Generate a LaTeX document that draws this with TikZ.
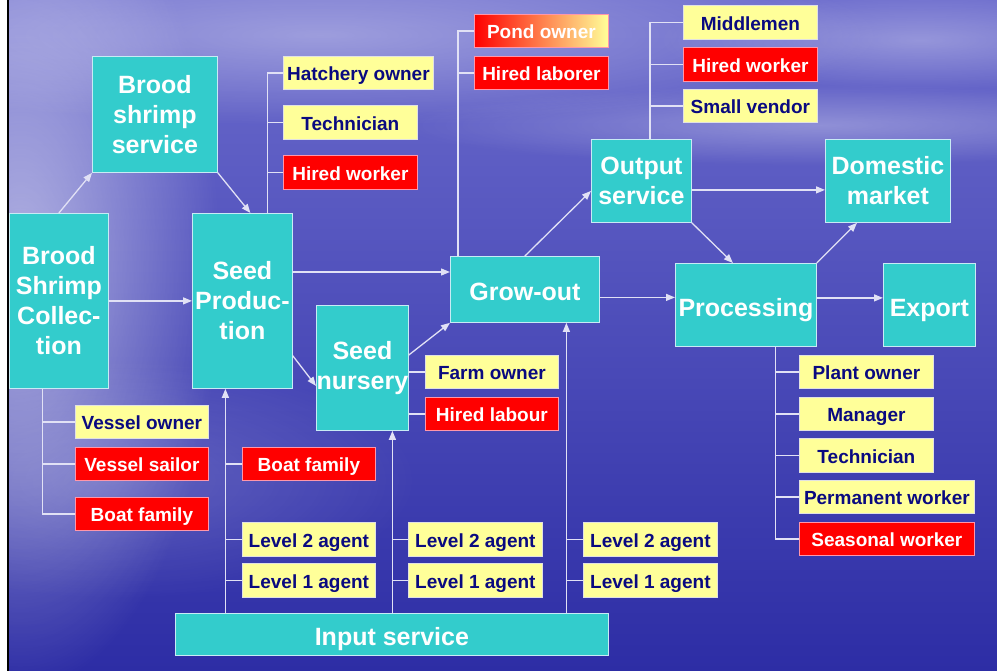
\documentclass[tikz,border=0pt]{standalone}
\usepackage{fontspec}
\setmainfont{Liberation Sans}
\usetikzlibrary{arrows.meta,fadings,calc}
\definecolor{tealc}{RGB}{51,204,204}
\definecolor{yelc}{RGB}{255,255,153}
\definecolor{redc}{RGB}{255,0,0}
\definecolor{navyc}{RGB}{10,10,128}
\definecolor{linec}{RGB}{225,225,245}
\definecolor{tbord}{RGB}{200,235,245}
\definecolor{ybord}{RGB}{225,225,225}
\definecolor{rbord}{RGB}{255,150,170}
\definecolor{bgtop}{RGB}{108,108,205}
\definecolor{bgmid}{RGB}{70,70,185}
\definecolor{bgbot}{RGB}{45,45,165}
\definecolor{pondmid}{RGB}{255,120,50}
\tikzfading[name=softglow, inner color=transparent!0, outer color=transparent!100]
\newcommand\bigf{\fontsize{25}{30}\selectfont\bfseries}
\newcommand\smf{\fontsize{19}{22}\selectfont\bfseries}
\newcommand\mkbox[7]{\node[#1, minimum width={(#5-#3)*1pt}, minimum height={(#6-#4)*1pt}] (#2) at (#3,#4) {#7};}
\tikzset{
  tealbox/.style={fill=tealc, draw=tbord, line width=0.8pt, text=white, font=\bigf, align=center, inner sep=0pt, anchor=north west},
  bigone/.style={tealbox, text height=23pt, text depth=0pt},
  yelbox/.style={fill=yelc, draw=ybord, line width=0.8pt, text=navyc, font=\smf, align=center, inner sep=0pt, anchor=north west, text height=15.6pt, text depth=0pt},
  redbox/.style={fill=redc, draw=rbord, line width=0.8pt, text=white, font=\smf, align=center, inner sep=0pt, anchor=north west, text height=15.6pt, text depth=0pt},
  pondbox/.style={left color=redc, middle color=pondmid, right color=yelc, draw=rbord, line width=0.8pt, text=white, font=\smf, align=center, inner sep=0pt, anchor=north west, text height=15.6pt, text depth=0pt},
  conn/.style={draw=linec, line width=1.3pt},
  arr/.style={conn, -{Triangle[length=9pt,width=7pt]}},
}
\begin{document}
\begin{tikzpicture}[x=1pt,y=-1pt]
\useasboundingbox (0,0) rectangle (997,671);
% background
\fill[white] (0,0) rectangle (7,671);
\shade[top color=bgtop, middle color=bgmid, bottom color=bgbot] (9,0) rectangle (997,671);
\begin{scope}
\clip (9,0) rectangle (997,671);
\fill[white, opacity=0.55, path fading=softglow] (20,270) ellipse (200 and 420);
\fill[white, opacity=0.35, path fading=softglow] (320,35) ellipse (560 and 90);
\fill[white, opacity=0.30, path fading=softglow] (820,125) ellipse (420 and 40);
\fill[white, opacity=0.30, path fading=softglow] (920,40) ellipse (260 and 50);
\fill[white, opacity=0.18, path fading=softglow] (120,480) ellipse (300 and 120);
\end{scope}
\fill[black] (6.5,0) rectangle (9,671);
% main boxes
\mkbox{tealbox}{bs}{92}{56}{217}{172}{Brood\\shrimp\\service}
\mkbox{tealbox}{bc}{9}{213}{108}{388}{Brood\\Shrimp\\Collec-\\tion}
\mkbox{tealbox}{sp}{192}{213}{292}{388}{Seed\\Produc-\\tion}
\mkbox{tealbox}{sn}{316}{305}{408}{430}{Seed\\nursery}
\mkbox{bigone}{go}{450}{256}{599}{322}{Grow-out}
\mkbox{tealbox}{os}{591}{139}{691}{222}{Output\\service}
\mkbox{tealbox}{dm}{825}{139}{950}{222}{Domestic\\market}
\mkbox{bigone}{pr}{675}{263}{816}{346}{Processing}
\mkbox{bigone}{ex}{883}{263}{975}{346}{Export}
\mkbox{bigone}{is}{175}{613}{608}{655}{Input service}
% staff boxes
\mkbox{yelbox}{ho}{283}{56}{433}{89}{Hatchery owner}
\mkbox{yelbox}{te1}{283}{105}{417}{139}{Technician}
\mkbox{redbox}{hw1}{283}{155}{417}{189}{Hired worker}
\mkbox{pondbox}{po}{474}{14}{608}{47}{Pond owner}
\mkbox{redbox}{hla}{474}{56}{608}{89}{Hired laborer}
\mkbox{yelbox}{mm}{683}{5}{817}{39}{Middlemen}
\mkbox{redbox}{hw2}{683}{47}{817}{81}{Hired worker}
\mkbox{yelbox}{sv}{683}{89}{817}{122}{Small vendor}
\mkbox{yelbox}{fo}{425}{355}{558}{388}{Farm owner}
\mkbox{redbox}{hl}{425}{397}{558}{430}{Hired labour}
\mkbox{yelbox}{plo}{799}{355}{933}{388}{Plant owner}
\mkbox{yelbox}{mg}{799}{397}{933}{430}{Manager}
\mkbox{yelbox}{te2}{799}{438}{933}{472}{Technician}
\mkbox{yelbox}{pmw}{799}{480}{974}{513}{Permanent worker}
\mkbox{redbox}{sw}{799}{522}{974}{555}{Seasonal worker}
\mkbox{yelbox}{vo}{75}{405}{208}{438}{Vessel owner}
\mkbox{redbox}{vsl}{75}{447}{208}{480}{Vessel sailor}
\mkbox{redbox}{bf1}{75}{497}{208}{530}{Boat family}
\mkbox{redbox}{bf2}{242}{447}{375}{480}{Boat family}
\mkbox{yelbox}{l2a}{242}{522}{375}{556}{Level 2 agent}
\mkbox{yelbox}{l1a}{242}{563}{375}{597}{Level 1 agent}
\mkbox{yelbox}{l2b}{408}{522}{542}{556}{Level 2 agent}
\mkbox{yelbox}{l1b}{408}{563}{542}{597}{Level 1 agent}
\mkbox{yelbox}{l2c}{583}{522}{717}{556}{Level 2 agent}
\mkbox{yelbox}{l1c}{583}{563}{717}{597}{Level 1 agent}
% flow arrows
\draw[arr] (bc.north) -- (bs.south west);
\draw[arr] (bs.south east) -- ([xshift=8pt]sp.north);
\draw[arr] (bc.east) -- (bc.east -| sp.west);
\coordinate (a1) at ([yshift=-59pt]sp.north east);
\draw[arr] (a1) -- (a1 -| go.west);
\draw[arr] ([yshift=33pt]sp.south east) -- ([yshift=-18pt]sn.west);
\draw[arr] ([yshift=-50pt]sn.north east) -- (go.south west);
\draw[arr] (go.north) -- ([yshift=-10pt]os.west);
\coordinate (a2) at ([yshift=-9pt]os.east);
\draw[arr] (a2) -- (a2 -| dm.west);
\draw[arr] (os.south east) -- ([xshift=-13pt]pr.north);
\draw[arr] (pr.north east) -- ([xshift=32pt]dm.south west);
\coordinate (a3) at ([yshift=-8pt]go.east);
\draw[arr] (a3) -- (a3 -| pr.west);
\coordinate (a4) at ([yshift=7pt]pr.east);
\draw[arr] (a4) -- (a4 -| ex.west);
% input service arrows
\coordinate (u1) at ([xshift=-17pt]sp.south);
\draw[arr] (u1 |- is.north) -- (u1);
\coordinate (u2) at ([xshift=30pt]sn.south);
\draw[arr] (u2 |- is.north) -- (u2);
\coordinate (u3) at ([xshift=41.5pt]go.south);
\draw[arr] (u3 |- is.north) -- (u3);
\foreach \b in {bf2,l2a,l1a} \draw[conn] (\b.west -| u1) -- (\b.west);
\foreach \b in {l2b,l1b} \draw[conn] (\b.west -| u2) -- (\b.west);
\foreach \b in {l2c,l1c} \draw[conn] (\b.west -| u3) -- (\b.west);
% staff trees
\coordinate (t1) at ([xshift=-16.5pt]bc.south);
\draw[conn] (t1) |- (bf1.west);
\foreach \b in {vo,vsl} \draw[conn] (t1 |- \b.west) -- (\b.west);
\coordinate (t2) at ([xshift=25pt]sp.north);
\draw[conn] (t2) |- (ho.west);
\foreach \b in {te1,hw1} \draw[conn] (t2 |- \b.west) -- (\b.west);
\coordinate (t3) at ([xshift=8pt]go.north west);
\draw[conn] (t3) |- (po.west);
\draw[conn] (t3 |- hla.west) -- (hla.west);
\coordinate (t4) at ([xshift=8.5pt]os.north);
\draw[conn] (t4) |- (mm.west);
\foreach \b in {hw2,sv} \draw[conn] (t4 |- \b.west) -- (\b.west);
\coordinate (t5) at ([xshift=29.5pt]pr.south);
\draw[conn] (t5) |- (sw.west);
\foreach \b in {plo,mg,te2,pmw} \draw[conn] (t5 |- \b.west) -- (\b.west);
\foreach \b in {fo,hl} \draw[conn] (\b.west -| sn.east) -- (\b.west);
\end{tikzpicture}
\end{document}
